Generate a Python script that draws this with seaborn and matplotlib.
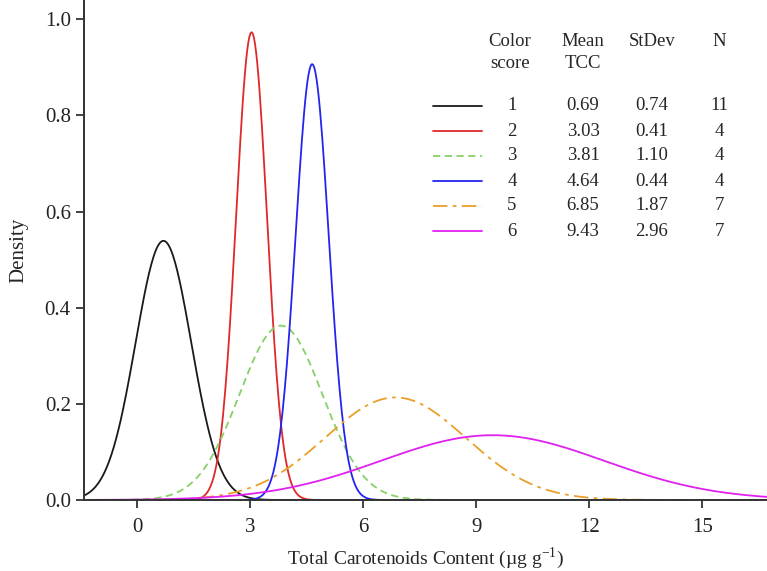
import numpy as np
import pandas as pd
import matplotlib
matplotlib.use("Agg")
import matplotlib.pyplot as plt
import seaborn as sns

# fitted normal distributions per colour score
scores = ["1", "2", "3", "4", "5", "6"]
means = [0.69, 3.03, 3.81, 4.64, 6.85, 9.43]
stdevs = [0.74, 0.41, 1.10, 0.44, 1.87, 2.96]
counts = [11, 4, 4, 4, 7, 7]

colors = ["#1a1a1a", "#e02828", "#86d068", "#2424f0", "#e8a028", "#e020f0"]
dashes = [(None, None), (None, None), (4, 2.5), (None, None), (8, 3, 2, 3), (None, None)]

x_ticks = [0, 3, 6, 9, 12, 15]
y_ticks = [0.0, 0.2, 0.4, 0.6, 0.8, 1.0]
x_lim = (-1.42, 16.72)

sns.set_theme(style="ticks")
plt.rcParams["font.family"] = ["Liberation Serif", "DejaVu Serif"]
plt.rcParams["axes.unicode_minus"] = False
plt.rcParams["mathtext.fontset"] = "custom"
plt.rcParams["mathtext.rm"] = "Liberation Serif"

xs = np.linspace(x_lim[0], x_lim[1], 600)
rows = []
for s, m, sd in zip(scores, means, stdevs):
    dens = np.exp(-0.5 * ((xs - m) / sd) ** 2) / (sd * np.sqrt(2 * np.pi))
    rows.append(pd.DataFrame({"x": xs, "density": dens, "score": s}))
df = pd.concat(rows, ignore_index=True)

fig = plt.figure(figsize=(7.67, 5.71), dpi=100)
ax = fig.add_axes([84 / 767, 71 / 571, 683 / 767, 500 / 571])

for s, c, d in zip(scores, colors, dashes):
    sub = df[df["score"] == s]
    sns.lineplot(data=sub, x="x", y="density", color=c, lw=1.3, ax=ax, legend=False)
    if d[0] is not None:
        ax.lines[-1].set_dashes(d)

ax.set_xlim(*x_lim)
ax.set_ylim(0, 1.04)
ax.set_xticks(x_ticks)
ax.set_yticks(y_ticks)
ax.set_yticklabels([f"{v:.1f}" for v in y_ticks])
ax.tick_params(axis="both", direction="out", length=6, width=1.2, labelsize=15, colors="#222222")
ax.tick_params(axis="x", pad=7)
for sp in ["top", "right"]:
    ax.spines[sp].set_visible(False)
for sp in ["left", "bottom"]:
    ax.spines[sp].set_linewidth(1.4)
    ax.spines[sp].set_color("#333333")
ax.set_xlabel("Total Carotenoids Content (\u00b5g g$^{\\mathregular{-1}}$)", fontsize=14, labelpad=6)
ax.set_ylabel("Density", fontsize=15, labelpad=12)

# table-style legend (pixel positions converted to figure fraction)
def fx(px):
    return px / 767

def fy(py):
    return 1 - py / 571

fs = 13.5
col_x = [512, 583, 652, 719]
fig.text(fx(510), fy(41), "Color", ha="center", va="center", fontsize=fs)
fig.text(fx(510), fy(63), "score", ha="center", va="center", fontsize=fs)
fig.text(fx(583), fy(41), "Mean", ha="center", va="center", fontsize=fs)
fig.text(fx(583), fy(63), "TCC", ha="center", va="center", fontsize=fs)
fig.text(fx(652), fy(41), "StDev", ha="center", va="center", fontsize=fs)
fig.text(fx(719), fy(41), "N", ha="center", va="center", fontsize=fs)

for i, (s, m, sd, n) in enumerate(zip(scores, means, stdevs, counts)):
    py = 106 + i * 25
    ln = plt.Line2D([fx(433), fx(482)], [fy(py), fy(py)], transform=fig.transFigure,
                    color=colors[i], lw=1.3)
    if dashes[i][0] is not None:
        ln.set_dashes(dashes[i])
    fig.add_artist(ln)
    for cx, txt in zip(col_x, [s, f"{m:.2f}", f"{sd:.2f}", str(n)]):
        fig.text(fx(cx), fy(py), txt, ha="center", va="center", fontsize=fs)

fig.savefig("out.png", dpi=100)
